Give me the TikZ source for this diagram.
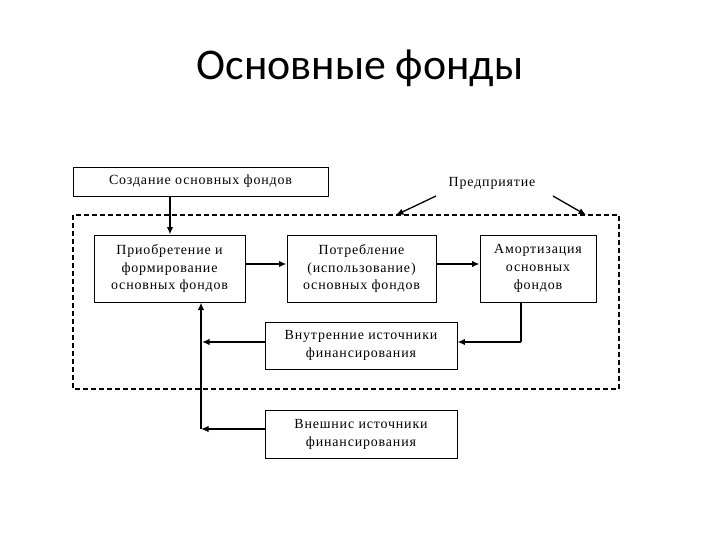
\documentclass[tikz,border=0pt]{standalone}
\usepackage{fontspec}
\setmainfont{Liberation Serif}[LetterSpace=6]
\newfontfamily\titlefont{Carlito}
\usetikzlibrary{arrows.meta}
\begin{document}
\begin{tikzpicture}[x=1bp,y=-1bp,
  boxst/.style={draw,line width=0.9bp,align=center,inner sep=0pt,font=\fontsize{14}{18}\selectfont},
  arr/.style={line width=1.8bp,-{Latex[length=7.5bp,width=6.5bp]}},
  thinarr/.style={line width=1.3bp,-{Latex[length=7.5bp,width=6.5bp]}},
  lbl/.style={font=\fontsize{14}{18}\selectfont}]
\useasboundingbox (0,0) rectangle (720,540);
\node[font=\titlefont\fontsize{44}{50}\selectfont] (title) at (360,68) {Основные фонды};
\node[boxst,minimum width=255bp,minimum height=29bp] (create) at (200.5,181.5) {Создание основных фондов};
\node[lbl] (ent) at (492,183) {Предприятие};
\draw[line width=1.8bp,dashed,dash pattern=on 5bp off 3bp] (73,215) rectangle (619,389);
\coordinate (entL) at (396,215);
\coordinate (entR) at (586,215);
\node[boxst,minimum width=151bp,minimum height=67bp] (acq) at (169.5,268.5) {Приобретение и\\формирование\\основных фондов};
\node[boxst,minimum width=149bp,minimum height=67bp] (use) at (361.5,268.5) {Потребление\\(использование)\\основных фондов};
\node[boxst,minimum width=116bp,minimum height=67bp] (amort) at (538,268.5) {Амортизация\\основных\\фондов};
\node[boxst,minimum width=192bp,minimum height=47bp] (inner) at (361,345.5) {Внутренние источники\\финансирования};
\node[boxst,minimum width=192bp,minimum height=48bp] (outer) at (361,434) {Внешнис источники\\финансирования};
\coordinate (vbot) at (201,429);
\coordinate (vtop) at (201,302.5);
\coordinate (j1) at (202,342);
\coordinate (corner) at (521,342);
% connectors
\draw[arr] (create.south -| 170,0) -- (acq.north -| 170,0);
\draw[arr] (acq.east |- 0,264) -- (use.west |- 0,264);
\draw[arr] (use.east |- 0,264) -- (amort.west |- 0,264);
\draw[arr] (vbot) -- (vtop);
\draw[arr] (inner.west |- 0,342) -- (j1);
\draw[arr] (outer.west |- 0,429) -- (vbot);
\draw[line width=1.8bp] (amort.south -| 521,0) -- (corner);
\draw[arr] (corner) -- (inner.east |- 0,342);
\draw[thinarr] (436,196) -- (entL);
\draw[thinarr] (553,196) -- (entR);
\end{tikzpicture}
\end{document}
